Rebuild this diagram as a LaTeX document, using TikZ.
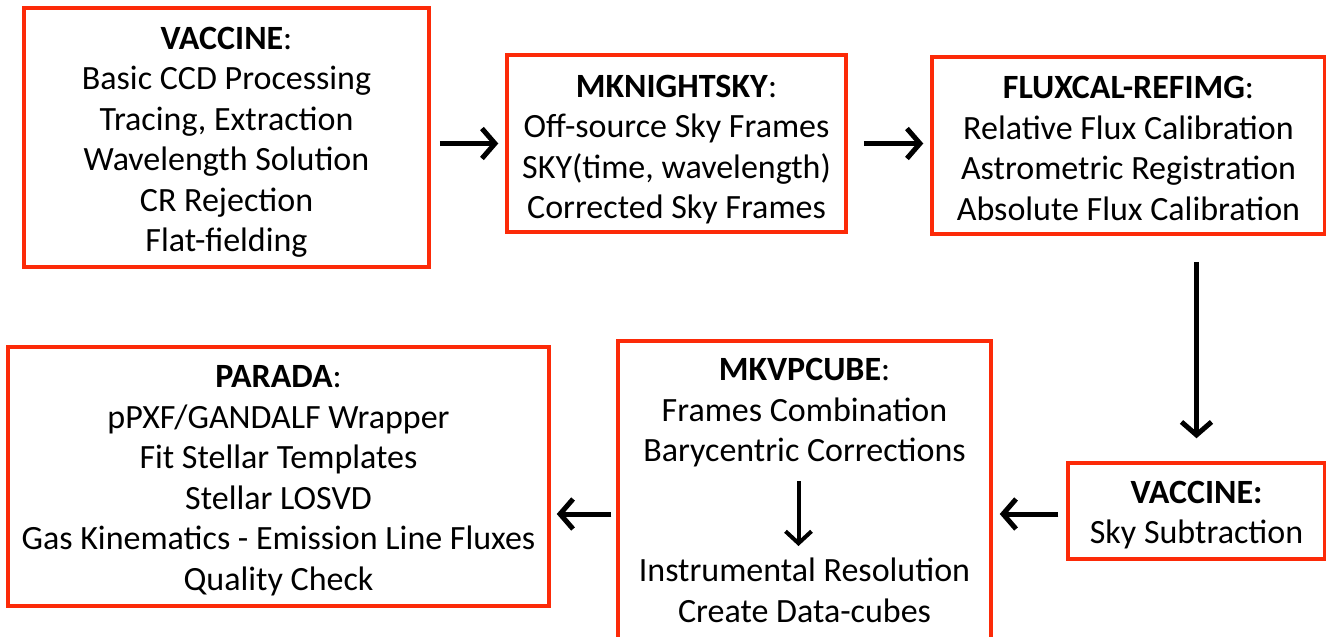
\documentclass[tikz,border=0pt]{standalone}
\usepackage{fontspec}
\setmainfont{Carlito}
\usetikzlibrary{arrows.meta,positioning,calc}
\definecolor{boxred}{RGB}{252,42,8}
\tikzset{
  stage/.style  = { draw=boxred, line width=3.5pt, inner sep=0pt },
  txt/.style    = { align=center, inner sep=0pt, font=\fontsize{34}{40.5}\selectfont },
  flow/.style   = { line width=5pt, -{Straight Barb[length=13pt,width=30pt]} },
  inflow/.style = { line width=4pt, -{Straight Barb[length=12pt,width=26pt]} }
}
\begin{document}
\begin{tikzpicture}[x=1pt,y=1pt]
  \useasboundingbox (0,0) rectangle (1326,-637);
  \clip (0,0) rectangle (1326,-637);
  \node[stage, minimum width=405pt, minimum height=259pt] (vac) at (226.5,-137.5) {};
  \node[txt] (vactxt) at ([yshift=-5pt]vac.center)
    {\textbf{VACCINE}:\\Basic CCD Processing\\Tracing, Extraction\\Wavelength Solution\\CR Rejection\\Flat-fielding};
  \node[stage, minimum width=339pt, minimum height=177pt] (sky) at (676.5,-143.5) {};
  \node[txt] (skytxt) at ([yshift=-6pt]sky.center)
    {\textbf{MKNIGHTSKY}:\\Off-source Sky Frames\\SKY(time, wavelength)\\Corrected Sky Frames};
  \node[stage, minimum width=393pt, minimum height=177pt] (flux) at (1128.5,-145.5) {};
  \node[txt] (fluxtxt) at ([yshift=-3pt]flux.center)
    {\textbf{FLUXCAL-REFIMG}:\\Relative Flux Calibration\\Astrometric Registration\\Absolute Flux Calibration};
  \node[stage, minimum width=257pt, minimum height=96pt] (sub) at (1196.5,-511) {};
  \node[txt] (subtxt) at ([yshift=-4pt]sub.center)
    {\textbf{VACCINE:}\\Sky Subtraction};
  % cube box runs off the bottom edge
  \node[stage, minimum width=373pt, minimum height=330pt, anchor=north] (cube) at (804.5,-339) {};
  \node[txt, anchor=north] (cubetop) at (804.5,-358)
    {\textbf{MKVPCUBE}:\\Frames Combination\\Barycentric Corrections};
  \node[txt, anchor=north] (cubebot) at (804.5,-558)
    {Instrumental Resolution\\Create Data-cubes};
  \node[stage, minimum width=541pt, minimum height=259pt] (par) at (278.5,-476.5) {};
  \node[txt] (partxt) at ([yshift=-4pt]par.center)
    {\textbf{PARADA}:\\pPXF/GANDALF Wrapper\\Fit Stellar Templates\\Stellar LOSVD\\Gas Kinematics - Emission Line Fluxes\\Quality Check};

  \draw[flow, shorten <=9pt, shorten >=7pt] (vac.east |- sky.west) -- (sky.west);
  \draw[flow, shorten <=16pt, shorten >=7pt] (sky.east) -- (sky.east -| flux.west);
  \draw[flow, shorten <=26pt, shorten >=23pt] (flux.south -| sub.north) -- (sub.north);
  \draw[flow, shorten <=8pt, shorten >=7pt] ($(sub.west)+(0,-3)$) -- ($(sub.west -| cube.east)+(0,-3)$);
  \draw[flow, shorten <=5pt, shorten >=6pt] ($(sub.west -| cube.west)+(0,-3)$) -- ($(sub.west -| par.east)+(0,-3)$);
  \draw[inflow, shorten <=14pt, shorten >=12pt] ($(cubetop.south)+(-6,0)$) -- ($(cubebot.north)+(-6,0)$);
\end{tikzpicture}
\end{document}
